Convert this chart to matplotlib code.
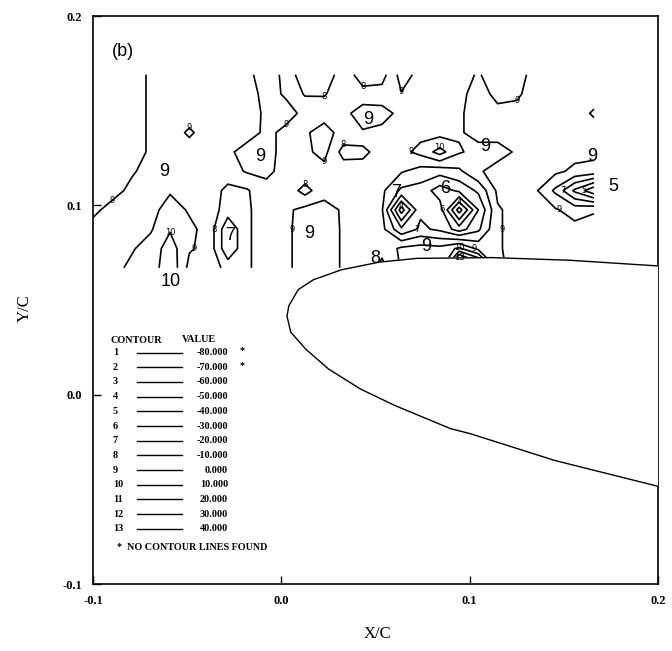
import numpy as np
import matplotlib.pyplot as plt

# ---------------------------
# data
# ---------------------------

# measurement grid above the leading edge
x_grid = np.linspace(-0.1, 0.166, 27)
y_grid = np.linspace(0.067, 0.169, 11)

# field values, rows from top (y=0.169) down to bottom (y=0.067)
field_rows = [
    [3, 3, 3, -1, -3, -3, -3, -3, -2, 4, -2, -18, -18, -3, -16, -14, 4, -3, -3, -2, 0.5, -3, -3, 3, 3, 3, 3],
    [3, 3, 3, -1, -3, -3, -3, -3, -4, 3, -1, -11, -11, -3, -6, -6, -0.5, -3, -3, -2, 3, -2, -1, 3, 3, 3, 3],
    [3, 3, 3, -1, -3, -3, -3, -3, -5, 2, 3, -2, -3, -3, 5, 4, -3, -3, -3, -1, 3, 2, 2, 3, 3, 3, 12],
    [3, 3, 3, -1, -3, 1, -3, -3, -4, 2, -2, -1, 3, -3, -1, -3, -3, -3, -4, -1, 3, 3, 3, 3, 3, 3, 3],
    [3, 3, 3, -1, -3, -3, -3, -2, 4, 3, -3, -2, 3, -14, -14, -3, -3, 3, 14, 1, -3, -3, 1, 3, 3, 3, 3],
    [3, 3, 1, -3, -3, -3, -3, -4, 1, 2, -3, -2, -3, -4, -3, -4, -9, -14, -16, -12, -1, 3, 3, 3, 2, -2, -4],
    [3, 3, -2, -3, -1, -3, -4, -13, -11, -3, -3, -14, -3, -3, -3, -8, -22, -24, -35, -28, -18, 2, 3, 1, -12, -32, -48],
    [2, -3, -3, -3, 4, -1, -4, -15, -12, -3, -2, 3, 3, -1, -3, -9, -55, -22, -25, -65, -30, -1, 3, 3, 1, -4, -1],
    [-3, -3, -3, -1, 9, 2, -3, -28, -12, -3, -2, 4, 4, -1, -3, -7, -28, -18, -22, -35, -22, -1, 3, 3, 3, 3, 4],
    [-3, -3, -1, 4, 15, 1, -3, -28, -12, -3, -2, 4, 4, -1, -3, -7, 2, 4, 3, 12, -3, -1, 3, 3, 3, 3, 3],
    [-3, -3, 2, 4, 18, -3, -3, -14, -12, -3, -2, 4, 4, -1, -3, -13, 1, 4, 3, 70, 45, -2, 3, 3, 3, 3, 3],
]

# contour legend
contour_ids = list(range(1, 14))
contour_values = [-80, -70, -60, -50, -40, -30, -20, -10, 0, 10, 20, 30, 40]
no_lines_found = [True, True] + [False] * 11

# airfoil outline: upper surface trailing -> leading edge, then lower surface
airfoil_x = [0.2, 0.153, 0.112, 0.072, 0.052, 0.032, 0.017, 0.009, 0.004, 0.003,
             0.005, 0.013, 0.025, 0.042, 0.060, 0.090, 0.100, 0.145, 0.2]
airfoil_y = [0.068, 0.071, 0.0724, 0.072, 0.070, 0.066, 0.0607, 0.0555, 0.047, 0.0415,
             0.033, 0.024, 0.0136, 0.003, -0.0056, -0.018, -0.0205, -0.0347, -0.0484]

# large hand-placed contour labels
big_label_text = ["9", "10", "7", "9", "9", "9", "7", "6", "9", "9", "9", "5", "8"]
big_label_x = [-0.062, -0.059, -0.027, -0.011, 0.046, 0.015, 0.061, 0.087, 0.077, 0.108, 0.165, 0.176, 0.050]
big_label_y = [0.118, 0.060, 0.084, 0.126, 0.1455, 0.085, 0.107, 0.109, 0.0785, 0.131, 0.126, 0.110, 0.072]


# ---------------------------
# figure
# ---------------------------

fig = plt.figure(figsize=(6.72, 6.51), dpi=100)
ax = fig.add_axes([0.1384, 0.1029, 0.8408, 0.8725])
ax.set_xlim(-0.1, 0.2)
ax.set_ylim(-0.1, 0.2)

Z = np.array(field_rows[::-1], dtype=float)
X, Y = np.meshgrid(x_grid, y_grid)

cs = ax.contour(X, Y, Z, levels=contour_values, colors="black",
                linewidths=1.2, linestyles="solid", zorder=2)

fmt = {v: str(i) for v, i in zip(contour_values, contour_ids)}
labels = ax.clabel(cs, fmt=fmt, fontsize=6, inline=False)

# keep small labels clear of the big ones and of each other
kept_big = [tuple(ax.transData.transform((bx, by))) for bx, by in zip(big_label_x, big_label_y)]
kept = []
for t in list(labels):
    t.set_rotation(0)
    t.set_zorder(5)
    px, py = ax.transData.transform(t.get_position())
    near_big = any(abs(px - kx) < 14 and abs(py - ky) < 13 for kx, ky in kept_big)
    near_small = any(abs(px - kx) < 12 and abs(py - ky) < 9 for kx, ky in kept)
    if near_big or near_small:
        t.set_visible(False)
    else:
        kept.append((px, py))

# airfoil on top, white inside
ax.fill(airfoil_x, airfoil_y, color="white", zorder=3)
ax.plot(airfoil_x, airfoil_y, color="black", lw=1.0, zorder=4)

for t, bx, by in zip(big_label_text, big_label_x, big_label_y):
    ax.text(bx, by, t, fontsize=13, family="Liberation Sans",
            ha="center", va="center", zorder=5)

ax.text(-0.09, 0.181, "(b)", fontsize=13, family="Liberation Sans",
        ha="left", va="center")

# ---------------------------
# contour/value table
# ---------------------------

serif = dict(family="Liberation Serif", weight="bold", fontsize=7.3)
ax.text(-0.0905, 0.0287, "CONTOUR", ha="left", va="center", **serif)
ax.text(-0.0530, 0.0292, "VALUE", ha="left", va="center", **serif)
for k, (cid, val, flag) in enumerate(zip(contour_ids, contour_values, no_lines_found)):
    yy = 0.0222 - k * 0.00775
    ax.text(-0.0895, yy, str(cid), ha="left", va="center", **serif)
    ax.plot([-0.0768, -0.0528], [yy, yy], color="black", lw=1.0)
    ax.text(-0.0282, yy, "%.3f" % val, ha="right", va="center", **serif)
    if flag:
        ax.text(-0.0207, yy + 0.001, "*", ha="center", va="center", **serif)
ax.text(-0.0875, -0.0807, "*  NO CONTOUR LINES FOUND", ha="left", va="center", **serif)

# ---------------------------
# axes
# ---------------------------

ax.set_xticks([-0.1, 0.0, 0.1, 0.2])
ax.set_yticks([-0.1, 0.0, 0.1, 0.2])
ax.set_xticklabels(["-0.1", "0.0", "0.1", "0.2"])
ax.set_yticklabels(["-0.1", "0.0", "0.1", "0.2"])
ax.tick_params(direction="in", length=6, width=1, pad=8)
for lab in ax.get_xticklabels() + ax.get_yticklabels():
    lab.set_family("Liberation Serif")
    lab.set_weight("bold")
    lab.set_fontsize(9)
for sp in ax.spines.values():
    sp.set_linewidth(1.2)

fig.text(377 / 672, 1 - 634 / 651, "X/C", fontsize=12, family="Liberation Serif",
         ha="center", va="center")
fig.text(25 / 672, 1 - 308 / 651, "Y/C", fontsize=12, family="Liberation Serif",
         ha="center", va="center", rotation=90)

fig.savefig("out.png", dpi=100)
